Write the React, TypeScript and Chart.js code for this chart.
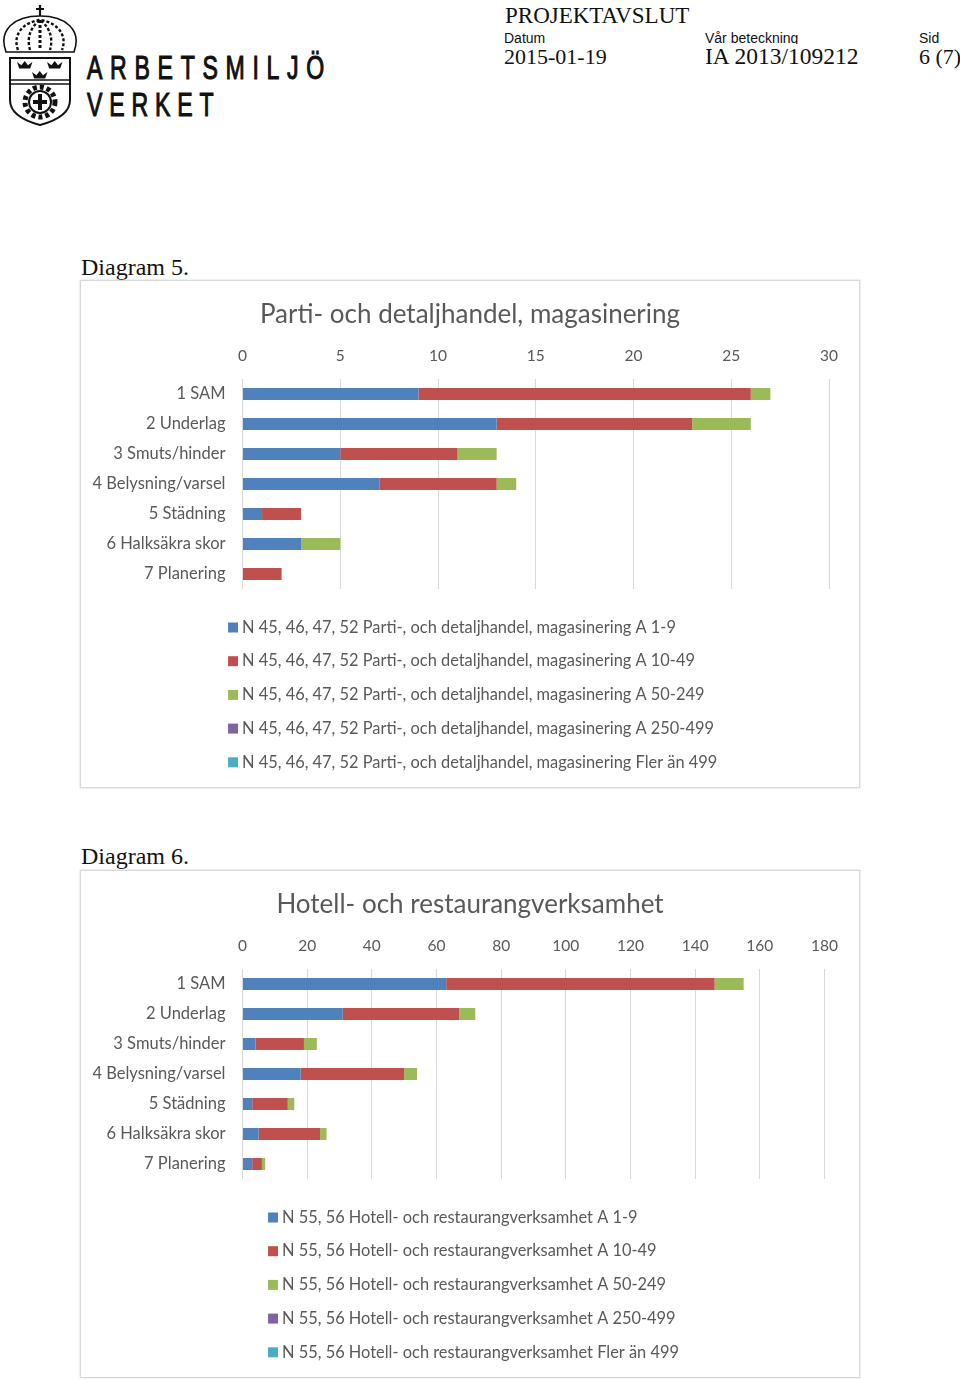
import React, { useEffect, useRef } from "react";
import { Chart, registerables } from "chart.js";

Chart.register(...registerables);

const categories = ["1 SAM", "2 Underlag", "3 Smuts/hinder", "4 Belysning/varsel", "5 Städning", "6 Halksäkra skor", "7 Planering"];
const sizeLabels = ["A 1-9", "A 10-49", "A 50-249", "A 250-499", "Fler än 499"];
const colors = ["#4F81BD", "#C0504D", "#9BBB59", "#8064A2", "#4BACC6"];

const retailTitle = "Parti- och detaljhandel, magasinering";
const retailPrefix = "N 45, 46, 47, 52 Parti-, och detaljhandel, magasinering ";
const retail1to9 = [9, 13, 5, 7, 1, 3, 0];
const retail10to49 = [17, 10, 6, 6, 2, 0, 2];
const retail50to249 = [1, 3, 2, 1, 0, 2, 0];
const retail250to499 = [0, 0, 0, 0, 0, 0, 0];
const retailOver499 = [0, 0, 0, 0, 0, 0, 0];

const hotelTitle = "Hotell- och restaurangverksamhet";
const hotelPrefix = "N 55, 56 Hotell- och restaurangverksamhet ";
const hotel1to9 = [63, 31, 4, 18, 3, 5, 3];
const hotel10to49 = [83, 36, 15, 32, 11, 19, 3];
const hotel50to249 = [9, 5, 4, 4, 2, 2, 1];
const hotel250to499 = [0, 0, 0, 0, 0, 0, 0];
const hotelOver499 = [0, 0, 0, 0, 0, 0, 0];

const FONT = "Lato, 'Open Sans', sans-serif";
const TEXT = "#595959";

type PanelProps = {
  top: number;
  title: string;
  prefix: string;
  series: number[][];
  max: number;
  step: number;
  rightPad: number;
  legendLeft: number;
};

function Panel({ top, title, prefix, series, max, step, rightPad, legendLeft }: PanelProps) {
  const ref = useRef<HTMLCanvasElement>(null);
  useEffect(() => {
    const chart = new Chart(ref.current!, {
      type: "bar",
      data: {
        labels: categories,
        datasets: series.map((data, i) => ({
          label: prefix + sizeLabels[i],
          data,
          backgroundColor: colors[i],
          borderWidth: 0,
          pointStyle: "rect",
          categoryPercentage: 0.4,
          barPercentage: 1,
        })),
      },
      options: {
        indexAxis: "y",
        animation: false,
        responsive: false,
        layout: { padding: { left: 0, right: rightPad, top: 0, bottom: 19.5 } },
        scales: {
          x: {
            position: "top",
            stacked: true,
            min: 0,
            max,
            ticks: { stepSize: step, color: TEXT, font: { family: FONT, size: 15.5 }, padding: 14, maxRotation: 0 },
            grid: { color: "#d9d9d9", lineWidth: 1, drawTicks: false },
            border: { display: false },
            afterFit: (s: any) => { s.height = 48.8; },
          },
          y: {
            stacked: true,
            ticks: { color: TEXT, font: { family: FONT, size: 16.5 }, padding: 9, autoSkip: false },
            grid: { display: false },
            border: { display: false },
            afterFit: (s: any) => { s.width = 161.5; },
          },
        },
        plugins: {
          title: {
            display: true,
            text: title,
            color: TEXT,
            font: { family: FONT, size: 26, weight: "normal" },
            padding: { top: 18, bottom: 0 },
          },
          legend: {
            position: "bottom",
            align: "start",
            labels: {
              color: TEXT,
              font: { family: FONT, size: 16.4 },
              usePointStyle: true,
              boxWidth: 1.5,
              boxHeight: 10,
              padding: 17.3,
            },
          },
          tooltip: { enabled: false },
        },
      },
      plugins: [
        {
          id: "blockPlacement",
          beforeDraw(c: any) {
            const l = c.legend;
            l.left = legendLeft;
            l.top = c.chartArea.bottom + 13;
            l.bottom = c.height;
            l.right = c.width;
            c.titleBlock.left = 0;
            c.titleBlock.right = c.width;
          },
        },
      ],
    } as any);
    return () => chart.destroy();
  }, []);
  return (
    <div style={{ position: "absolute", left: 80, top, width: 778, height: 506, border: "1px solid #d9d9d9", boxShadow: "0 0 2px #d0d0d0", background: "#fff" }}>
      <canvas ref={ref} width={778} height={506} style={{ display: "block" }} />
    </div>
  );
}

const serif: React.CSSProperties = { position: "absolute", fontFamily: "'Liberation Serif', serif", color: "#111", whiteSpace: "nowrap", lineHeight: 1 };
const sans: React.CSSProperties = { position: "absolute", fontFamily: "'Liberation Sans', sans-serif", color: "#111", whiteSpace: "nowrap", lineHeight: 1, fontSize: 14 };

function Crown({ x, y, s }: { x: number; y: number; s: number }) {
  return (
    <path
      transform={`translate(${x} ${y}) scale(${s})`}
      d="M0 0 L2 6 H12 L14 0 L10 3 L7 -1 L4 3 Z"
      fill="#111"
    />
  );
}

function Logo() {
  return (
    <svg width={340} height={130} style={{ position: "absolute", left: 0, top: 0 }}>
      <g fill="none" stroke="#111" strokeWidth={1.6}>
        <path d="M40 5 V16 M36 9 H44" strokeWidth={2.2} />
        <path d="M6 52 C-2 30 14 16 40 16 C66 16 82 30 74 52 Z" />
        <path d="M18 50 C12 34 24 22 40 20 C56 22 68 34 62 50" strokeDasharray="3 2" strokeWidth={2.4} />
        <path d="M30 50 C26 36 32 26 40 20 C48 26 54 36 50 50" strokeDasharray="3 2" strokeWidth={2.4} />
        <path d="M40 20 V50" strokeDasharray="3 2" strokeWidth={3} />
        <path d="M10 58 H70 V100 Q70 117 40 125 Q10 117 10 100 Z" strokeWidth={2} />
        <path d="M10 80 H70" strokeWidth={1.4} />
        <path d="M10 84 H70" strokeWidth={1.4} />
        <circle cx={40} cy={102} r={15} strokeWidth={5} strokeDasharray="4 3" />
        <circle cx={40} cy={102} r={11} strokeWidth={2} />
        <path d="M40 94 V110 M33 102 H47" strokeWidth={4} />
      </g>
      <Crown x={17} y={62} s={1.1} />
      <Crown x={47} y={62} s={1.1} />
      <Crown x={32} y={72} s={1.1} />
      <text transform="translate(87 79) scale(0.7 1)" fontFamily="'Liberation Sans', sans-serif" fontSize={33} fill="#111" stroke="#111" strokeWidth={1.1} textLength={339} lengthAdjust="spacing">ARBETSMILJÖ</text>
      <text transform="translate(87 116) scale(0.7 1)" fontFamily="'Liberation Sans', sans-serif" fontSize={33} fill="#111" stroke="#111" strokeWidth={1.1} textLength={181} lengthAdjust="spacing">VERKET</text>
    </svg>
  );
}

export default function App() {
  return (
    <div style={{ position: "absolute", left: 0, top: 0, width: 960, height: 1379, background: "#fff", overflow: "hidden" }}>
      <Logo />
      <div style={{ ...serif, left: 505, top: 4, fontSize: 23 }}>PROJEKTAVSLUT</div>
      <div style={{ ...sans, left: 504, top: 31, height: 13, overflow: "hidden" }}>Datum</div>
      <div style={{ ...sans, left: 705, top: 31, height: 13, overflow: "hidden" }}>Vår beteckning</div>
      <div style={{ ...sans, left: 919, top: 31, height: 13, overflow: "hidden" }}>Sid</div>
      <div style={{ ...serif, left: 504, top: 46, fontSize: 22 }}>2015-01-19</div>
      <div style={{ ...serif, left: 705, top: 45, fontSize: 23.5 }}>IA 2013/109212</div>
      <div style={{ ...serif, left: 919, top: 46, fontSize: 22 }}>6 (7)</div>
      <div style={{ ...serif, left: 81, top: 255, fontSize: 24 }}>Diagram 5.</div>
      <div style={{ ...serif, left: 81, top: 844, fontSize: 24 }}>Diagram 6.</div>
      <Panel
        top={280}
        title={retailTitle}
        prefix={retailPrefix}
        series={[retail1to9, retail10to49, retail50to249, retail250to499, retailOver499]}
        max={30}
        step={5}
        rightPad={30}
        legendLeft={134}
      />
      <Panel
        top={870}
        title={hotelTitle}
        prefix={hotelPrefix}
        series={[hotel1to9, hotel10to49, hotel50to249, hotel250to499, hotelOver499]}
        max={180}
        step={20}
        rightPad={34.5}
        legendLeft={174}
      />
    </div>
  );
}
